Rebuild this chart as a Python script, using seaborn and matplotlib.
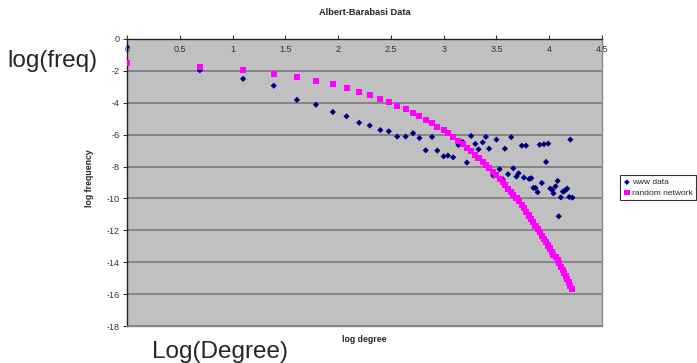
import matplotlib
matplotlib.use("Agg")
import matplotlib.pyplot as plt
import seaborn as sns
import pandas as pd

# log degree (natural log of k = 1..68)
log_degree = [0.00, 0.69, 1.10, 1.39, 1.61, 1.79, 1.95, 2.08, 2.20, 2.30,
              2.40, 2.48, 2.56, 2.64, 2.71, 2.77, 2.83, 2.89, 2.94, 3.00,
              3.04, 3.09, 3.14, 3.18, 3.22, 3.26, 3.30, 3.33, 3.37, 3.40,
              3.43, 3.47, 3.50, 3.53, 3.56, 3.58, 3.61, 3.64, 3.66, 3.69,
              3.71, 3.74, 3.76, 3.78, 3.81, 3.83, 3.85, 3.87, 3.89, 3.91,
              3.93, 3.95, 3.97, 3.99, 4.01, 4.03, 4.04, 4.06, 4.08, 4.09,
              4.11, 4.13, 4.14, 4.16, 4.17, 4.19, 4.20, 4.22]

www_freq = [-0.50, -1.96, -2.50, -2.93, -3.82, -4.12, -4.58, -4.85, -5.25, -5.43,
            -5.71, -5.79, -6.12, -6.12, -5.91, -6.21, -6.98, -6.14, -7.00, -7.36,
            -7.31, -7.42, -6.65, -6.46, -7.75, -6.08, -6.58, -6.92, -6.48, -6.14,
            -6.88, -8.57, -6.31, -8.17, -8.80, -6.88, -8.48, -6.16, -8.11, -8.63,
            -8.42, -6.69, -8.69, -6.69, -8.78, -8.73, -9.34, -9.34, -9.61, -6.63,
            -9.03, -6.60, -7.71, -6.56, -9.38, -9.47, -9.68, -9.24, -8.90, -11.12,
            -9.93, -9.57, -9.55, -9.45, -9.38, -9.91, -6.31, -9.95]

random_freq = [-1.50, -1.73, -1.96, -2.19, -2.38, -2.63, -2.82, -3.07, -3.32, -3.51,
               -3.76, -3.95, -4.20, -4.39, -4.64, -4.83, -5.08, -5.29, -5.54, -5.71,
               -5.92, -6.16, -6.39, -6.61, -6.83, -7.05, -7.27, -7.48, -7.69, -7.90,
               -8.10, -8.32, -8.54, -8.76, -8.97, -9.18, -9.39, -9.59, -9.80, -10.00,
               -10.17, -10.40, -10.62, -10.84, -11.07, -11.29, -11.50, -11.71, -11.92, -12.13,
               -12.34, -12.55, -12.75, -12.95, -13.14, -13.33, -13.52, -13.70, -13.89, -14.07,
               -14.27, -14.47, -14.67, -14.87, -15.07, -15.27, -15.47, -15.67]

x_ticks = [0, 0.5, 1, 1.5, 2, 2.5, 3, 3.5, 4, 4.5]
x_tick_labels = ["0", "0.5", "1", "1.5", "2", "2.5", "3", "3.5", "4", "4.5"]
y_ticks = [0, -2, -4, -6, -8, -10, -12, -14, -16, -18]

www = pd.DataFrame({"log degree": log_degree, "log frequency": www_freq})
rnd = pd.DataFrame({"log degree": log_degree, "log frequency": random_freq})

sns.set_style("white")
plt.rcParams["font.family"] = ["Liberation Sans", "DejaVu Sans"]

fig = plt.figure(figsize=(6.97, 3.63), dpi=100)
ax = fig.add_axes([127 / 697, 1 - 326 / 363, 475 / 697, 287 / 363])
ax.set_facecolor("#C0C0C0")

sns.scatterplot(data=www, x="log degree", y="log frequency", ax=ax, marker="D",
                s=10, color="#000080", edgecolor="none", label="www data", zorder=3)
sns.scatterplot(data=rnd, x="log degree", y="log frequency", ax=ax, marker="s",
                s=19, color="#FF00FF", edgecolor="none", label="random network", zorder=4)

ax.set_xlim(0, 4.5)
ax.set_ylim(-18, 0)
ax.set_xticks(x_ticks)
ax.set_xticklabels(x_tick_labels)
ax.set_yticks(y_ticks)
ax.set_yticklabels([str(v) for v in y_ticks])
ax.yaxis.grid(True, color="#808080", linewidth=1.3)
ax.xaxis.grid(False)
ax.set_axisbelow(True)

ax.tick_params(axis="x", top=True, labeltop=True, bottom=False, labelbottom=False,
               direction="out", length=3, width=0.8, pad=-14, labelsize=6.5, colors="#333333")
ax.tick_params(axis="y", left=True, direction="out", length=3, width=0.8,
               pad=2, labelsize=6.5, colors="#333333")

for side in ["left", "top"]:
    ax.spines[side].set_color("#222222")
    ax.spines[side].set_linewidth(1.0)
for side in ["right", "bottom"]:
    ax.spines[side].set_color("#8a8a8a")
    ax.spines[side].set_linewidth(1.0)

ax.set_xlabel("")
ax.set_ylabel("")
fig.text(0.523, 0.965, "Albert-Barabasi Data", ha="center", va="center",
         fontsize=6.7, fontweight="bold")
fig.text(90 / 697, 0.51, "log frequency", ha="center", va="center",
         rotation=90, fontsize=6.3, fontweight="bold")
fig.text(0.523, 1 - 339 / 363, "log degree", ha="center", va="center",
         fontsize=6.3, fontweight="bold")

fig.text(7 / 697, 1 - 61 / 363, "log(freq)", ha="left", va="center", fontsize=17.5)
fig.text(152 / 697, 1 - 352 / 363, "Log(Degree)", ha="left", va="center", fontsize=17.5)

leg = ax.legend(loc="upper left", bbox_to_anchor=(616 / 697, 1 - 171 / 363),
                bbox_transform=fig.transFigure, fontsize=6, frameon=True,
                fancybox=False, borderpad=0.4, handletextpad=0.2,
                handlelength=0.8, labelspacing=0.3, markerscale=0.9)
leg.get_frame().set_edgecolor("black")
leg.get_frame().set_linewidth(0.8)

fig.savefig("out.png", dpi=100)
